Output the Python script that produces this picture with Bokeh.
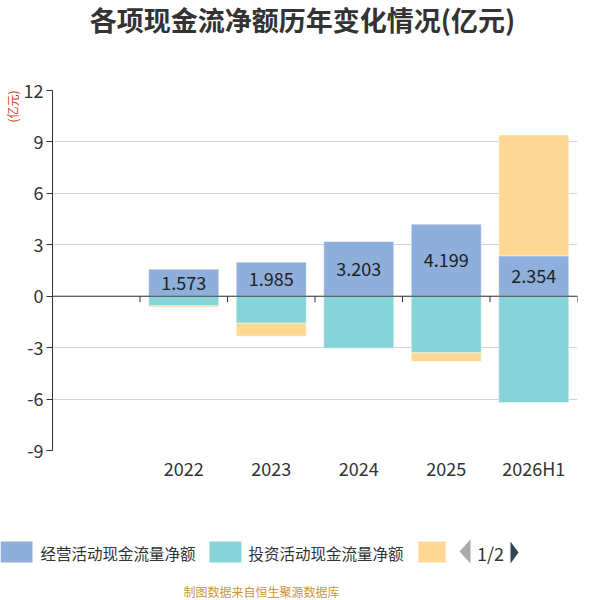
from bokeh.plotting import figure
from bokeh.models import ColumnDataSource, FixedTicker, Span, Title, Range1d
from bokeh.layouts import column
from bokeh.core.properties import value
from bokeh.embed import file_html
from bokeh.resources import INLINE

# chart data
categories = [" ", "2022", "2023", "2024", "2025", "2026H1"]
years = ["2022", "2023", "2024", "2025", "2026H1"]
operating = [1.573, 1.985, 3.203, 4.199, 2.354]
investing = [-0.56, -1.57, -3.03, -3.30, -6.20]
financing = [-0.08, -0.76, 0.0, -0.51, 7.05]
series_names = ["经营活动现金流量净额", "投资活动现金流量净额", "筹资活动现金流量净额"]
colors = ["#8eaedb", "#86d4d8", "#ffd896"]
y_ticks = [-9, -6, -3, 0, 3, 6, 9, 12]

FONT = "Noto Sans CJK SC"
TEXT = "#333333"
W = 600


def strip(y0, y1):
    """Plain figure with no axes, y running downward in page pixels."""
    f = figure(width=W, height=y1 - y0, x_range=Range1d(0, W), y_range=Range1d(y1, y0),
               output_backend="svg", toolbar_location=None, tools="",
               x_axis_location=None, y_axis_location=None, min_border=0)
    f.outline_line_color = None
    f.grid.grid_line_color = None
    f.frame_align = False
    return f


# title strip
head = strip(0, 45)
head.text(x=[302], y=[19], text=["各项现金流净额历年变化情况(亿元)"], text_align="center",
          text_baseline="middle", text_font=value(FONT), text_font_size="27px",
          text_font_style="bold", text_color=TEXT)

# positives and negatives stack separately
pos = [0.0] * len(years)
neg = [0.0] * len(years)
stacks = []
for vals in (operating, investing, financing):
    bottoms, tops = [], []
    for i, v in enumerate(vals):
        if v >= 0:
            bottoms.append(pos[i])
            tops.append(pos[i] + v)
            pos[i] += v
        else:
            bottoms.append(neg[i])
            tops.append(neg[i] + v)
            neg[i] += v
    stacks.append((bottoms, tops))

p = figure(x_range=categories, y_range=(-9, 12), width=W, height=465,
           output_backend="svg", toolbar_location=None, tools="",
           min_border_left=52, min_border_right=23,
           min_border_top=45, min_border_bottom=60)
p.frame_align = False

p.add_layout(Title(text="(亿元)", align="right", standoff=0, text_font=FONT,
                   text_font_size="12px", text_font_style="normal",
                   text_line_height=1.0, text_color="#c8461e"), "left")

for (b, t), c in zip(stacks, colors):
    src = ColumnDataSource(dict(x=years, bottom=b, top=t))
    p.vbar(x="x", bottom="bottom", top="top", width=0.8, source=src,
           fill_color=c, line_color="white", line_width=0.6, line_alpha=0.7)

# value labels inside the operating bars
p.text(x=years, y=[v / 2 for v in operating], text=[f"{v:.3f}" for v in operating],
       text_align="center", text_baseline="middle", text_font=value(FONT),
       text_font_size="18px", text_color="#222222")

# zero line with category boundary ticks
p.add_layout(Span(location=0, dimension="width", line_color=TEXT, line_width=1))
bounds = list(range(1, len(categories) + 1))
p.segment(x0=bounds, y0=[0] * len(bounds), x1=bounds, y1=[-0.35] * len(bounds),
          line_color=TEXT, line_width=1)

# axes and grid
p.outline_line_color = None
p.xgrid.grid_line_color = None
p.ygrid.ticker = FixedTicker(ticks=y_ticks)
p.ygrid.grid_line_color = "#d3d3d3"
p.yaxis.ticker = FixedTicker(ticks=y_ticks)
p.yaxis.major_label_overrides = {t: str(t) for t in y_ticks}
p.yaxis.axis_line_color = TEXT
p.yaxis.major_tick_line_color = TEXT
p.yaxis.major_tick_out = 6
p.yaxis.major_tick_in = 0
p.yaxis.minor_tick_line_color = None
p.yaxis.major_label_standoff = 3
p.xaxis.axis_line_color = None
p.xaxis.major_tick_line_color = None
p.xaxis.major_tick_out = 0
p.xaxis.major_tick_in = 0
p.xaxis.major_label_standoff = 4
for ax in (p.xaxis, p.yaxis):
    ax.major_label_text_font = FONT
    ax.major_label_text_font_size = "18px"
    ax.major_label_text_color = TEXT

# legend strip (first page of a paged legend) and source note
leg = strip(510, 600)
leg.quad(left=[0, 209, 418], right=[32, 241, 445], top=[541] * 3, bottom=[562] * 3,
         fill_color=colors, line_color=None)
leg.text(x=[40, 248], y=[552, 552], text=series_names[:2], text_align="left",
         text_baseline="middle", text_font=value(FONT), text_font_size="15.5px",
         text_color=TEXT)
leg.patch(x=[459, 470, 470], y=[551, 539, 563], fill_color="#aaaaaa", line_color=None)
leg.text(x=[490], y=[552], text=["1/2"], text_align="center", text_baseline="middle",
         text_font=value(FONT), text_font_size="18px", text_color=TEXT)
leg.patch(x=[510, 518, 510], y=[541, 552, 563], fill_color="#2f4554", line_color=None)
leg.text(x=[261], y=[591], text=["制图数据来自恒生聚源数据库"], text_align="center",
         text_baseline="middle", text_font=value(FONT), text_font_size="12px",
         text_color="#c9973d")

layout = column(head, p, leg, spacing=0)
open("out.html", "w").write(file_html(layout, INLINE))
